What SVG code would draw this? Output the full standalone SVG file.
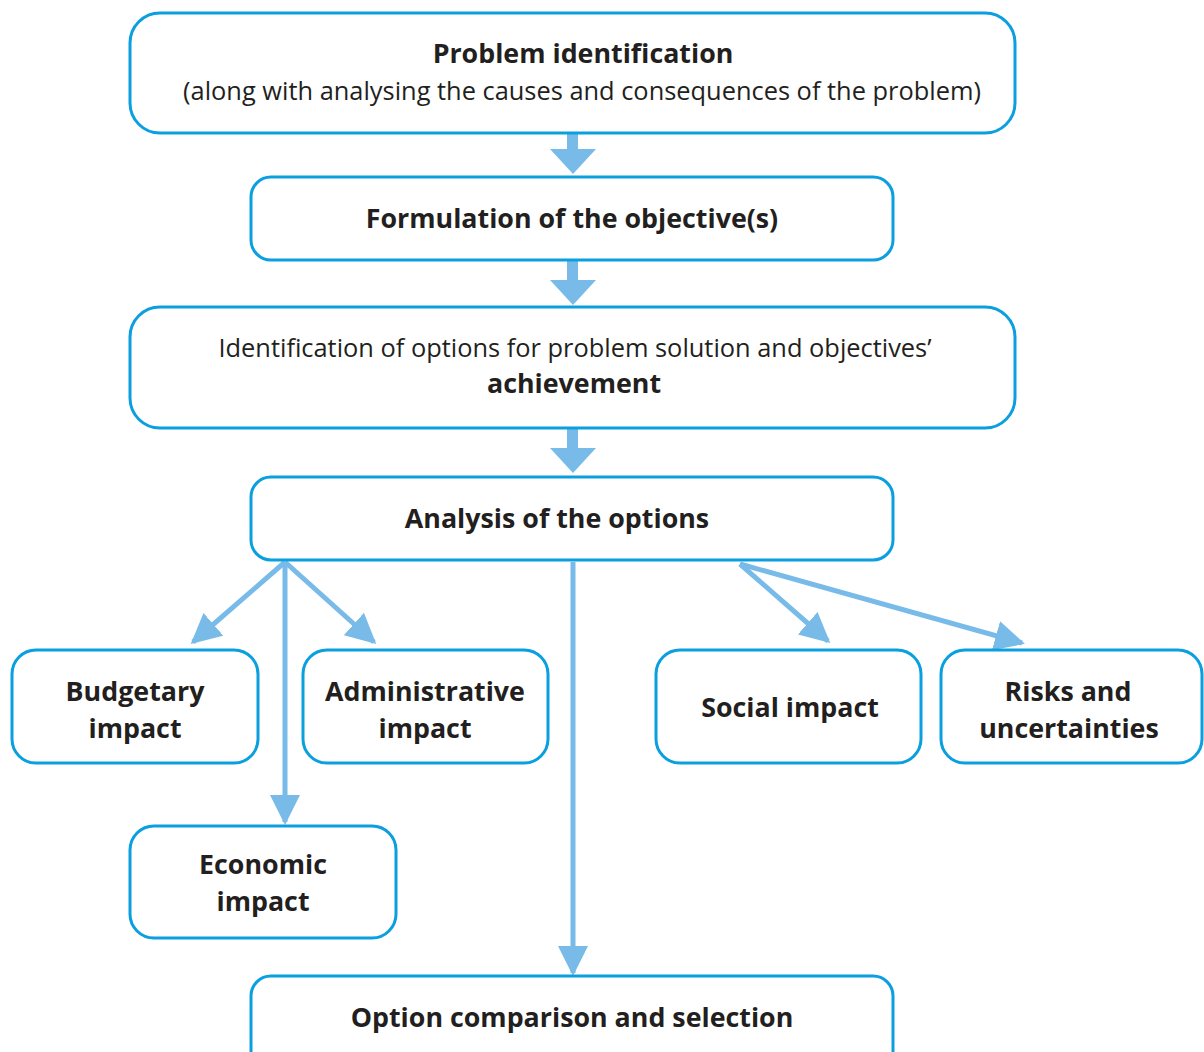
<svg xmlns="http://www.w3.org/2000/svg" width="1204" height="1052" viewBox="0 0 1204 1052">
<style>
.box{fill:#fff;stroke:#0b9fdf;stroke-width:3}
.t{font-family:"Open Sans","Noto Sans",sans-serif;fill:#231f20;text-anchor:middle}
.b{font-weight:bold;font-size:26.8px}
.r{font-size:25.4px}
.ln{stroke:#78bbe8;stroke-width:5;fill:none}
.big{fill:#78bbe8}
</style>
<defs>
<marker id="ah" viewBox="0 0 10 10" refX="9" refY="5" markerWidth="6" markerHeight="6" markerUnits="strokeWidth" orient="auto">
<path d="M0,0 L10,5 L0,10 Z" fill="#78bbe8"/>
</marker>
</defs>
<rect width="1204" height="1052" fill="#fff"/>
<g id="connectors">
<path class="big" d="M567,133 H578 V149 H596 L573,174 L550,149 H567 Z"/>
<path class="big" d="M567,260 H578 V280 H596 L573,305 L550,280 H567 Z"/>
<path class="big" d="M567,428 H578 V448 H596 L573,473 L550,448 H567 Z"/>
<line class="ln" x1="285" y1="562" x2="193" y2="642" marker-end="url(#ah)"/>
<line class="ln" x1="285" y1="562" x2="374" y2="642" marker-end="url(#ah)"/>
<line class="ln" x1="285" y1="562" x2="285" y2="822" marker-end="url(#ah)"/>
<line class="ln" x1="573" y1="562" x2="573" y2="973" marker-end="url(#ah)"/>
<line class="ln" x1="740" y1="564" x2="828" y2="641" marker-end="url(#ah)"/>
<line class="ln" x1="740" y1="564" x2="1022" y2="643" marker-end="url(#ah)"/>
</g>
<g id="problem">
<rect class="box" x="130" y="13" width="885" height="120" rx="30"/>
<text class="t b" x="583" y="63">Problem identification</text>
<text class="t r" x="582" y="100">(along with analysing the causes and consequences of the problem)</text>
</g>
<g id="objectives">
<rect class="box" x="251" y="177" width="642" height="83" rx="20"/>
<text class="t b" x="572" y="228">Formulation of the objective(s)</text>
</g>
<g id="identification">
<rect class="box" x="130" y="307" width="885" height="121" rx="30"/>
<text class="t r" x="575" y="357">Identification of options for problem solution and objectives’</text>
<text class="t b" x="574" y="393">achievement</text>
</g>
<g id="analysis">
<rect class="box" x="251" y="477" width="642" height="83" rx="20"/>
<text class="t b" x="557" y="528">Analysis of the options</text>
</g>
<g id="budgetary">
<rect class="box" x="12" y="650" width="246" height="113" rx="24"/>
<text class="t b" x="135" y="701">Budgetary</text>
<text class="t b" x="135" y="738">impact</text>
</g>
<g id="administrative">
<rect class="box" x="303" y="650" width="245" height="113" rx="24"/>
<text class="t b" x="425" y="701">Administrative</text>
<text class="t b" x="425" y="738">impact</text>
</g>
<g id="economic">
<rect class="box" x="130" y="826" width="266" height="112" rx="24"/>
<text class="t b" x="263" y="874">Economic</text>
<text class="t b" x="263" y="911">impact</text>
</g>
<g id="social">
<rect class="box" x="656" y="650" width="265" height="113" rx="24"/>
<text class="t b" x="790" y="717">Social impact</text>
</g>
<g id="risks">
<rect class="box" x="941" y="650" width="261" height="113" rx="24"/>
<text class="t b" x="1068" y="701">Risks and</text>
<text class="t b" x="1069" y="738">uncertainties</text>
</g>
<g id="comparison">
<rect class="box" x="251" y="976" width="642" height="100" rx="20"/>
<text class="t b" x="572" y="1027">Option comparison and selection</text>
</g>
</svg>
